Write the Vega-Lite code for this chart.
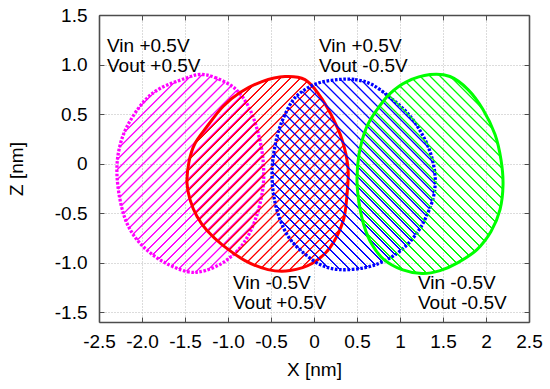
{
"$schema": "https://vega.github.io/schema/vega-lite/v6.json",
"width": 430, "height": 307,
"autosize": "none",
"padding": {"left": 99, "top": 15, "right": 21, "bottom": 67},
"config": {
  "view": {"stroke": null},
  "font": "Liberation Sans",
  "axis": {"labelFont": "Liberation Sans", "labelFontSize": 19, "labelColor": "#000000", "titleFont": "Liberation Sans", "titleFontSize": 19, "titleFontWeight": "normal", "titleColor": "#000000", "domainColor": "#4d4d4d", "domainWidth": 1.6, "tickColor": "#4d4d4d", "tickSize": -5, "tickWidth": 1, "gridColor": "#b8b8b8", "gridDash": [1, 2], "gridWidth": 1, "labelFlush": false, "labelOverlap": false}
},
"data": {"values": [
{"c":"m","i":1,"x":-1.326,"z":0.899},{"c":"m","i":2,"x":-1.151,"z":0.869},{"c":"m","i":3,"x":-0.919,"z":0.758},{"c":"m","i":4,"x":-0.756,"z":0.566},{"c":"m","i":5,"x":-0.651,"z":0.313},{"c":"m","i":6,"x":-0.593,"z":0.040},{"c":"m","i":7,"x":-0.593,"z":-0.242},{"c":"m","i":8,"x":-0.674,"z":-0.545},{"c":"m","i":9,"x":-0.814,"z":-0.798},{"c":"m","i":10,"x":-1.023,"z":-0.980},{"c":"m","i":11,"x":-1.267,"z":-1.081},{"c":"m","i":12,"x":-1.477,"z":-1.091},{"c":"m","i":13,"x":-1.756,"z":-0.990},{"c":"m","i":14,"x":-1.988,"z":-0.838},{"c":"m","i":15,"x":-2.151,"z":-0.646},{"c":"m","i":16,"x":-2.244,"z":-0.414},{"c":"m","i":17,"x":-2.291,"z":-0.111},{"c":"m","i":18,"x":-2.267,"z":0.141},{"c":"m","i":19,"x":-2.174,"z":0.374},{"c":"m","i":20,"x":-1.988,"z":0.616},{"c":"m","i":21,"x":-1.791,"z":0.758},{"c":"m","i":22,"x":-1.500,"z":0.859},
{"c":"r","i":1,"x":-0.337,"z":0.879},{"c":"r","i":2,"x":-0.105,"z":0.848},{"c":"r","i":3,"x":0.058,"z":0.697},{"c":"r","i":4,"x":0.198,"z":0.495},{"c":"r","i":5,"x":0.326,"z":0.242},{"c":"r","i":6,"x":0.395,"z":-0.040},{"c":"r","i":7,"x":0.384,"z":-0.313},{"c":"r","i":8,"x":0.337,"z":-0.586},{"c":"r","i":9,"x":0.186,"z":-0.848},{"c":"r","i":10,"x":-0.023,"z":-1.010},{"c":"r","i":11,"x":-0.279,"z":-1.081},{"c":"r","i":12,"x":-0.535,"z":-1.071},{"c":"r","i":13,"x":-0.802,"z":-0.980},{"c":"r","i":14,"x":-1.070,"z":-0.818},{"c":"r","i":15,"x":-1.244,"z":-0.677},{"c":"r","i":16,"x":-1.360,"z":-0.535},{"c":"r","i":17,"x":-1.442,"z":-0.364},{"c":"r","i":18,"x":-1.477,"z":-0.192},{"c":"r","i":19,"x":-1.453,"z":0.020},{"c":"r","i":20,"x":-1.384,"z":0.202},{"c":"r","i":21,"x":-1.244,"z":0.374},{"c":"r","i":22,"x":-1.058,"z":0.576},{"c":"r","i":23,"x":-0.860,"z":0.717},{"c":"r","i":24,"x":-0.605,"z":0.828},
{"c":"b","i":1,"x":0.279,"z":0.848},{"c":"b","i":2,"x":0.477,"z":0.848},{"c":"b","i":3,"x":0.674,"z":0.798},{"c":"b","i":4,"x":0.884,"z":0.667},{"c":"b","i":5,"x":1.081,"z":0.515},{"c":"b","i":6,"x":1.233,"z":0.333},{"c":"b","i":7,"x":1.349,"z":0.121},{"c":"b","i":8,"x":1.407,"z":-0.111},{"c":"b","i":9,"x":1.395,"z":-0.313},{"c":"b","i":10,"x":1.326,"z":-0.495},{"c":"b","i":11,"x":1.209,"z":-0.687},{"c":"b","i":12,"x":1.035,"z":-0.859},{"c":"b","i":13,"x":0.826,"z":-0.980},{"c":"b","i":14,"x":0.593,"z":-1.051},{"c":"b","i":15,"x":0.302,"z":-1.071},{"c":"b","i":16,"x":0.070,"z":-1.020},{"c":"b","i":17,"x":-0.140,"z":-0.889},{"c":"b","i":18,"x":-0.291,"z":-0.747},{"c":"b","i":19,"x":-0.395,"z":-0.566},{"c":"b","i":20,"x":-0.465,"z":-0.343},{"c":"b","i":21,"x":-0.488,"z":-0.111},{"c":"b","i":22,"x":-0.465,"z":0.121},{"c":"b","i":23,"x":-0.395,"z":0.374},{"c":"b","i":24,"x":-0.256,"z":0.626},{"c":"b","i":25,"x":-0.105,"z":0.747},{"c":"b","i":26,"x":0.070,"z":0.818},
{"c":"g","i":1,"x":1.349,"z":0.899},{"c":"g","i":2,"x":1.581,"z":0.879},{"c":"g","i":3,"x":1.791,"z":0.747},{"c":"g","i":4,"x":1.965,"z":0.545},{"c":"g","i":5,"x":2.105,"z":0.293},{"c":"g","i":6,"x":2.174,"z":0.040},{"c":"g","i":7,"x":2.198,"z":-0.212},{"c":"g","i":8,"x":2.163,"z":-0.465},{"c":"g","i":9,"x":2.058,"z":-0.687},{"c":"g","i":10,"x":1.895,"z":-0.869},{"c":"g","i":11,"x":1.674,"z":-1.000},{"c":"g","i":12,"x":1.465,"z":-1.081},{"c":"g","i":13,"x":1.256,"z":-1.111},{"c":"g","i":14,"x":1.023,"z":-1.071},{"c":"g","i":15,"x":0.814,"z":-0.970},{"c":"g","i":16,"x":0.674,"z":-0.818},{"c":"g","i":17,"x":0.581,"z":-0.626},{"c":"g","i":18,"x":0.523,"z":-0.394},{"c":"g","i":19,"x":0.500,"z":-0.162},{"c":"g","i":20,"x":0.523,"z":0.091},{"c":"g","i":21,"x":0.605,"z":0.354},{"c":"g","i":22,"x":0.733,"z":0.545},{"c":"g","i":23,"x":0.884,"z":0.707},{"c":"g","i":24,"x":1.081,"z":0.828}
]},
"layer": [
{
 "transform": [{"filter": "datum.c == 'm'"}],
 "mark": {"type": "line", "interpolate": "cardinal-closed", "stroke": "#ff00ff", "strokeWidth": 3.3, "strokeDash": [2.6, 1.6],
  "fill": {"gradient": "linear", "x1": 0, "y1": 0, "x2": 0.9714, "y2": 1.3106, "stops": [
{"offset":0.009,"color":"rgba(255,0,255,0)"},{"offset":0.0113,"color":"#ff00ff"},{"offset":0.0137,"color":"#ff00ff"},{"offset":0.016,"color":"rgba(255,0,255,0)"},
{"offset":0.034,"color":"rgba(255,0,255,0)"},{"offset":0.0363,"color":"#ff00ff"},{"offset":0.0387,"color":"#ff00ff"},{"offset":0.041,"color":"rgba(255,0,255,0)"},
{"offset":0.059,"color":"rgba(255,0,255,0)"},{"offset":0.0613,"color":"#ff00ff"},{"offset":0.0637,"color":"#ff00ff"},{"offset":0.066,"color":"rgba(255,0,255,0)"},
{"offset":0.084,"color":"rgba(255,0,255,0)"},{"offset":0.0863,"color":"#ff00ff"},{"offset":0.0887,"color":"#ff00ff"},{"offset":0.091,"color":"rgba(255,0,255,0)"},
{"offset":0.109,"color":"rgba(255,0,255,0)"},{"offset":0.1113,"color":"#ff00ff"},{"offset":0.1137,"color":"#ff00ff"},{"offset":0.116,"color":"rgba(255,0,255,0)"},
{"offset":0.134,"color":"rgba(255,0,255,0)"},{"offset":0.1363,"color":"#ff00ff"},{"offset":0.1387,"color":"#ff00ff"},{"offset":0.141,"color":"rgba(255,0,255,0)"},
{"offset":0.159,"color":"rgba(255,0,255,0)"},{"offset":0.1613,"color":"#ff00ff"},{"offset":0.1637,"color":"#ff00ff"},{"offset":0.166,"color":"rgba(255,0,255,0)"},
{"offset":0.184,"color":"rgba(255,0,255,0)"},{"offset":0.1863,"color":"#ff00ff"},{"offset":0.1887,"color":"#ff00ff"},{"offset":0.191,"color":"rgba(255,0,255,0)"},
{"offset":0.209,"color":"rgba(255,0,255,0)"},{"offset":0.2113,"color":"#ff00ff"},{"offset":0.2137,"color":"#ff00ff"},{"offset":0.216,"color":"rgba(255,0,255,0)"},
{"offset":0.234,"color":"rgba(255,0,255,0)"},{"offset":0.2363,"color":"#ff00ff"},{"offset":0.2387,"color":"#ff00ff"},{"offset":0.241,"color":"rgba(255,0,255,0)"},
{"offset":0.259,"color":"rgba(255,0,255,0)"},{"offset":0.2613,"color":"#ff00ff"},{"offset":0.2637,"color":"#ff00ff"},{"offset":0.266,"color":"rgba(255,0,255,0)"},
{"offset":0.284,"color":"rgba(255,0,255,0)"},{"offset":0.2863,"color":"#ff00ff"},{"offset":0.2887,"color":"#ff00ff"},{"offset":0.291,"color":"rgba(255,0,255,0)"},
{"offset":0.309,"color":"rgba(255,0,255,0)"},{"offset":0.3113,"color":"#ff00ff"},{"offset":0.3137,"color":"#ff00ff"},{"offset":0.316,"color":"rgba(255,0,255,0)"},
{"offset":0.334,"color":"rgba(255,0,255,0)"},{"offset":0.3363,"color":"#ff00ff"},{"offset":0.3387,"color":"#ff00ff"},{"offset":0.341,"color":"rgba(255,0,255,0)"},
{"offset":0.359,"color":"rgba(255,0,255,0)"},{"offset":0.3613,"color":"#ff00ff"},{"offset":0.3637,"color":"#ff00ff"},{"offset":0.366,"color":"rgba(255,0,255,0)"},
{"offset":0.384,"color":"rgba(255,0,255,0)"},{"offset":0.3863,"color":"#ff00ff"},{"offset":0.3887,"color":"#ff00ff"},{"offset":0.391,"color":"rgba(255,0,255,0)"},
{"offset":0.409,"color":"rgba(255,0,255,0)"},{"offset":0.4113,"color":"#ff00ff"},{"offset":0.4137,"color":"#ff00ff"},{"offset":0.416,"color":"rgba(255,0,255,0)"},
{"offset":0.434,"color":"rgba(255,0,255,0)"},{"offset":0.4363,"color":"#ff00ff"},{"offset":0.4387,"color":"#ff00ff"},{"offset":0.441,"color":"rgba(255,0,255,0)"},
{"offset":0.459,"color":"rgba(255,0,255,0)"},{"offset":0.4613,"color":"#ff00ff"},{"offset":0.4637,"color":"#ff00ff"},{"offset":0.466,"color":"rgba(255,0,255,0)"},
{"offset":0.484,"color":"rgba(255,0,255,0)"},{"offset":0.4863,"color":"#ff00ff"},{"offset":0.4887,"color":"#ff00ff"},{"offset":0.491,"color":"rgba(255,0,255,0)"},
{"offset":0.509,"color":"rgba(255,0,255,0)"},{"offset":0.5113,"color":"#ff00ff"},{"offset":0.5137,"color":"#ff00ff"},{"offset":0.516,"color":"rgba(255,0,255,0)"},
{"offset":0.534,"color":"rgba(255,0,255,0)"},{"offset":0.5363,"color":"#ff00ff"},{"offset":0.5387,"color":"#ff00ff"},{"offset":0.541,"color":"rgba(255,0,255,0)"},
{"offset":0.559,"color":"rgba(255,0,255,0)"},{"offset":0.5613,"color":"#ff00ff"},{"offset":0.5637,"color":"#ff00ff"},{"offset":0.566,"color":"rgba(255,0,255,0)"},
{"offset":0.584,"color":"rgba(255,0,255,0)"},{"offset":0.5863,"color":"#ff00ff"},{"offset":0.5887,"color":"#ff00ff"},{"offset":0.591,"color":"rgba(255,0,255,0)"},
{"offset":0.609,"color":"rgba(255,0,255,0)"},{"offset":0.6113,"color":"#ff00ff"},{"offset":0.6137,"color":"#ff00ff"},{"offset":0.616,"color":"rgba(255,0,255,0)"},
{"offset":0.634,"color":"rgba(255,0,255,0)"},{"offset":0.6363,"color":"#ff00ff"},{"offset":0.6387,"color":"#ff00ff"},{"offset":0.641,"color":"rgba(255,0,255,0)"},
{"offset":0.659,"color":"rgba(255,0,255,0)"},{"offset":0.6613,"color":"#ff00ff"},{"offset":0.6637,"color":"#ff00ff"},{"offset":0.666,"color":"rgba(255,0,255,0)"},
{"offset":0.684,"color":"rgba(255,0,255,0)"},{"offset":0.6863,"color":"#ff00ff"},{"offset":0.6887,"color":"#ff00ff"},{"offset":0.691,"color":"rgba(255,0,255,0)"},
{"offset":0.709,"color":"rgba(255,0,255,0)"},{"offset":0.7113,"color":"#ff00ff"},{"offset":0.7137,"color":"#ff00ff"},{"offset":0.716,"color":"rgba(255,0,255,0)"},
{"offset":0.734,"color":"rgba(255,0,255,0)"},{"offset":0.7363,"color":"#ff00ff"},{"offset":0.7387,"color":"#ff00ff"},{"offset":0.741,"color":"rgba(255,0,255,0)"},
{"offset":0.759,"color":"rgba(255,0,255,0)"},{"offset":0.7613,"color":"#ff00ff"},{"offset":0.7637,"color":"#ff00ff"},{"offset":0.766,"color":"rgba(255,0,255,0)"},
{"offset":0.784,"color":"rgba(255,0,255,0)"},{"offset":0.7863,"color":"#ff00ff"},{"offset":0.7887,"color":"#ff00ff"},{"offset":0.791,"color":"rgba(255,0,255,0)"},
{"offset":0.809,"color":"rgba(255,0,255,0)"},{"offset":0.8113,"color":"#ff00ff"},{"offset":0.8137,"color":"#ff00ff"},{"offset":0.816,"color":"rgba(255,0,255,0)"},
{"offset":0.834,"color":"rgba(255,0,255,0)"},{"offset":0.8363,"color":"#ff00ff"},{"offset":0.8387,"color":"#ff00ff"},{"offset":0.841,"color":"rgba(255,0,255,0)"},
{"offset":0.859,"color":"rgba(255,0,255,0)"},{"offset":0.8613,"color":"#ff00ff"},{"offset":0.8637,"color":"#ff00ff"},{"offset":0.866,"color":"rgba(255,0,255,0)"},
{"offset":0.884,"color":"rgba(255,0,255,0)"},{"offset":0.8863,"color":"#ff00ff"},{"offset":0.8887,"color":"#ff00ff"},{"offset":0.891,"color":"rgba(255,0,255,0)"},
{"offset":0.909,"color":"rgba(255,0,255,0)"},{"offset":0.9113,"color":"#ff00ff"},{"offset":0.9137,"color":"#ff00ff"},{"offset":0.916,"color":"rgba(255,0,255,0)"}
  ]}},
 "encoding": {
  "x": {"field": "x", "type": "quantitative", "scale": {"domain": [-2.5, 2.5], "nice": false, "zero": false},
        "axis": {"orient": "bottom", "values": [-2.5,-2,-1.5,-1,-0.5,0,0.5,1,1.5,2,2.5], "labelExpr": "datum.value < 0 && datum.value % 1 == 0 ? datum.value + '.0' : '' + datum.value", "grid": true, "title": "X [nm]", "labelPadding": 15, "titlePadding": 9}},
  "y": {"field": "z", "type": "quantitative", "scale": {"domain": [-1.6, 1.5], "nice": false, "zero": false},
        "axis": {"orient": "left", "values": [-1.5,-1,-0.5,0,0.5,1,1.5], "labelExpr": "datum.value != 0 && datum.value % 1 == 0 ? datum.value + '.0' : '' + datum.value", "grid": true, "title": "Z [nm]", "labelPadding": 17, "titlePadding": 28}},
  "order": {"field": "i", "type": "quantitative"}
 }
},
{
 "transform": [{"filter": "datum.c == 'r'"}],
 "mark": {"type": "line", "interpolate": "cardinal-closed", "stroke": "#ff0000", "strokeWidth": 3,
  "fill": {"gradient": "linear", "x1": 0, "y1": 0, "x2": 1.0132, "y2": 1.2209, "stops": [
{"offset":0.009,"color":"rgba(255,0,0,0)"},{"offset":0.0113,"color":"#ff0000"},{"offset":0.0137,"color":"#ff0000"},{"offset":0.016,"color":"rgba(255,0,0,0)"},
{"offset":0.034,"color":"rgba(255,0,0,0)"},{"offset":0.0363,"color":"#ff0000"},{"offset":0.0387,"color":"#ff0000"},{"offset":0.041,"color":"rgba(255,0,0,0)"},
{"offset":0.059,"color":"rgba(255,0,0,0)"},{"offset":0.0613,"color":"#ff0000"},{"offset":0.0637,"color":"#ff0000"},{"offset":0.066,"color":"rgba(255,0,0,0)"},
{"offset":0.084,"color":"rgba(255,0,0,0)"},{"offset":0.0863,"color":"#ff0000"},{"offset":0.0887,"color":"#ff0000"},{"offset":0.091,"color":"rgba(255,0,0,0)"},
{"offset":0.109,"color":"rgba(255,0,0,0)"},{"offset":0.1113,"color":"#ff0000"},{"offset":0.1137,"color":"#ff0000"},{"offset":0.116,"color":"rgba(255,0,0,0)"},
{"offset":0.134,"color":"rgba(255,0,0,0)"},{"offset":0.1363,"color":"#ff0000"},{"offset":0.1387,"color":"#ff0000"},{"offset":0.141,"color":"rgba(255,0,0,0)"},
{"offset":0.159,"color":"rgba(255,0,0,0)"},{"offset":0.1613,"color":"#ff0000"},{"offset":0.1637,"color":"#ff0000"},{"offset":0.166,"color":"rgba(255,0,0,0)"},
{"offset":0.184,"color":"rgba(255,0,0,0)"},{"offset":0.1863,"color":"#ff0000"},{"offset":0.1887,"color":"#ff0000"},{"offset":0.191,"color":"rgba(255,0,0,0)"},
{"offset":0.209,"color":"rgba(255,0,0,0)"},{"offset":0.2113,"color":"#ff0000"},{"offset":0.2137,"color":"#ff0000"},{"offset":0.216,"color":"rgba(255,0,0,0)"},
{"offset":0.234,"color":"rgba(255,0,0,0)"},{"offset":0.2363,"color":"#ff0000"},{"offset":0.2387,"color":"#ff0000"},{"offset":0.241,"color":"rgba(255,0,0,0)"},
{"offset":0.259,"color":"rgba(255,0,0,0)"},{"offset":0.2613,"color":"#ff0000"},{"offset":0.2637,"color":"#ff0000"},{"offset":0.266,"color":"rgba(255,0,0,0)"},
{"offset":0.284,"color":"rgba(255,0,0,0)"},{"offset":0.2863,"color":"#ff0000"},{"offset":0.2887,"color":"#ff0000"},{"offset":0.291,"color":"rgba(255,0,0,0)"},
{"offset":0.309,"color":"rgba(255,0,0,0)"},{"offset":0.3113,"color":"#ff0000"},{"offset":0.3137,"color":"#ff0000"},{"offset":0.316,"color":"rgba(255,0,0,0)"},
{"offset":0.334,"color":"rgba(255,0,0,0)"},{"offset":0.3363,"color":"#ff0000"},{"offset":0.3387,"color":"#ff0000"},{"offset":0.341,"color":"rgba(255,0,0,0)"},
{"offset":0.359,"color":"rgba(255,0,0,0)"},{"offset":0.3613,"color":"#ff0000"},{"offset":0.3637,"color":"#ff0000"},{"offset":0.366,"color":"rgba(255,0,0,0)"},
{"offset":0.384,"color":"rgba(255,0,0,0)"},{"offset":0.3863,"color":"#ff0000"},{"offset":0.3887,"color":"#ff0000"},{"offset":0.391,"color":"rgba(255,0,0,0)"},
{"offset":0.409,"color":"rgba(255,0,0,0)"},{"offset":0.4113,"color":"#ff0000"},{"offset":0.4137,"color":"#ff0000"},{"offset":0.416,"color":"rgba(255,0,0,0)"},
{"offset":0.434,"color":"rgba(255,0,0,0)"},{"offset":0.4363,"color":"#ff0000"},{"offset":0.4387,"color":"#ff0000"},{"offset":0.441,"color":"rgba(255,0,0,0)"},
{"offset":0.459,"color":"rgba(255,0,0,0)"},{"offset":0.4613,"color":"#ff0000"},{"offset":0.4637,"color":"#ff0000"},{"offset":0.466,"color":"rgba(255,0,0,0)"},
{"offset":0.484,"color":"rgba(255,0,0,0)"},{"offset":0.4863,"color":"#ff0000"},{"offset":0.4887,"color":"#ff0000"},{"offset":0.491,"color":"rgba(255,0,0,0)"},
{"offset":0.509,"color":"rgba(255,0,0,0)"},{"offset":0.5113,"color":"#ff0000"},{"offset":0.5137,"color":"#ff0000"},{"offset":0.516,"color":"rgba(255,0,0,0)"},
{"offset":0.534,"color":"rgba(255,0,0,0)"},{"offset":0.5363,"color":"#ff0000"},{"offset":0.5387,"color":"#ff0000"},{"offset":0.541,"color":"rgba(255,0,0,0)"},
{"offset":0.559,"color":"rgba(255,0,0,0)"},{"offset":0.5613,"color":"#ff0000"},{"offset":0.5637,"color":"#ff0000"},{"offset":0.566,"color":"rgba(255,0,0,0)"},
{"offset":0.584,"color":"rgba(255,0,0,0)"},{"offset":0.5863,"color":"#ff0000"},{"offset":0.5887,"color":"#ff0000"},{"offset":0.591,"color":"rgba(255,0,0,0)"},
{"offset":0.609,"color":"rgba(255,0,0,0)"},{"offset":0.6113,"color":"#ff0000"},{"offset":0.6137,"color":"#ff0000"},{"offset":0.616,"color":"rgba(255,0,0,0)"},
{"offset":0.634,"color":"rgba(255,0,0,0)"},{"offset":0.6363,"color":"#ff0000"},{"offset":0.6387,"color":"#ff0000"},{"offset":0.641,"color":"rgba(255,0,0,0)"},
{"offset":0.659,"color":"rgba(255,0,0,0)"},{"offset":0.6613,"color":"#ff0000"},{"offset":0.6637,"color":"#ff0000"},{"offset":0.666,"color":"rgba(255,0,0,0)"},
{"offset":0.684,"color":"rgba(255,0,0,0)"},{"offset":0.6863,"color":"#ff0000"},{"offset":0.6887,"color":"#ff0000"},{"offset":0.691,"color":"rgba(255,0,0,0)"},
{"offset":0.709,"color":"rgba(255,0,0,0)"},{"offset":0.7113,"color":"#ff0000"},{"offset":0.7137,"color":"#ff0000"},{"offset":0.716,"color":"rgba(255,0,0,0)"},
{"offset":0.734,"color":"rgba(255,0,0,0)"},{"offset":0.7363,"color":"#ff0000"},{"offset":0.7387,"color":"#ff0000"},{"offset":0.741,"color":"rgba(255,0,0,0)"},
{"offset":0.759,"color":"rgba(255,0,0,0)"},{"offset":0.7613,"color":"#ff0000"},{"offset":0.7637,"color":"#ff0000"},{"offset":0.766,"color":"rgba(255,0,0,0)"},
{"offset":0.784,"color":"rgba(255,0,0,0)"},{"offset":0.7863,"color":"#ff0000"},{"offset":0.7887,"color":"#ff0000"},{"offset":0.791,"color":"rgba(255,0,0,0)"},
{"offset":0.809,"color":"rgba(255,0,0,0)"},{"offset":0.8113,"color":"#ff0000"},{"offset":0.8137,"color":"#ff0000"},{"offset":0.816,"color":"rgba(255,0,0,0)"},
{"offset":0.834,"color":"rgba(255,0,0,0)"},{"offset":0.8363,"color":"#ff0000"},{"offset":0.8387,"color":"#ff0000"},{"offset":0.841,"color":"rgba(255,0,0,0)"},
{"offset":0.859,"color":"rgba(255,0,0,0)"},{"offset":0.8613,"color":"#ff0000"},{"offset":0.8637,"color":"#ff0000"},{"offset":0.866,"color":"rgba(255,0,0,0)"},
{"offset":0.884,"color":"rgba(255,0,0,0)"},{"offset":0.8863,"color":"#ff0000"},{"offset":0.8887,"color":"#ff0000"},{"offset":0.891,"color":"rgba(255,0,0,0)"},
{"offset":0.909,"color":"rgba(255,0,0,0)"},{"offset":0.9113,"color":"#ff0000"},{"offset":0.9137,"color":"#ff0000"},{"offset":0.916,"color":"rgba(255,0,0,0)"}
  ]}},
 "encoding": {
  "x": {"field": "x", "type": "quantitative", "scale": {"domain": [-2.5, 2.5], "nice": false, "zero": false}, "axis": null},
  "y": {"field": "z", "type": "quantitative", "scale": {"domain": [-1.6, 1.5], "nice": false, "zero": false}, "axis": null},
  "order": {"field": "i", "type": "quantitative"}
 }
},
{
 "transform": [{"filter": "datum.c == 'b'"}],
 "mark": {"type": "line", "interpolate": "cardinal-closed", "stroke": "#0000ff", "strokeWidth": 3.3, "strokeDash": [2.6, 1.6],
  "fill": {"gradient": "linear", "x1": 1, "y1": 0, "x2": -0.0404, "y2": 1.2127, "stops": [
{"offset":0.009,"color":"rgba(0,0,255,0)"},{"offset":0.0113,"color":"#0000ff"},{"offset":0.0137,"color":"#0000ff"},{"offset":0.016,"color":"rgba(0,0,255,0)"},
{"offset":0.034,"color":"rgba(0,0,255,0)"},{"offset":0.0363,"color":"#0000ff"},{"offset":0.0387,"color":"#0000ff"},{"offset":0.041,"color":"rgba(0,0,255,0)"},
{"offset":0.059,"color":"rgba(0,0,255,0)"},{"offset":0.0613,"color":"#0000ff"},{"offset":0.0637,"color":"#0000ff"},{"offset":0.066,"color":"rgba(0,0,255,0)"},
{"offset":0.084,"color":"rgba(0,0,255,0)"},{"offset":0.0863,"color":"#0000ff"},{"offset":0.0887,"color":"#0000ff"},{"offset":0.091,"color":"rgba(0,0,255,0)"},
{"offset":0.109,"color":"rgba(0,0,255,0)"},{"offset":0.1113,"color":"#0000ff"},{"offset":0.1137,"color":"#0000ff"},{"offset":0.116,"color":"rgba(0,0,255,0)"},
{"offset":0.134,"color":"rgba(0,0,255,0)"},{"offset":0.1363,"color":"#0000ff"},{"offset":0.1387,"color":"#0000ff"},{"offset":0.141,"color":"rgba(0,0,255,0)"},
{"offset":0.159,"color":"rgba(0,0,255,0)"},{"offset":0.1613,"color":"#0000ff"},{"offset":0.1637,"color":"#0000ff"},{"offset":0.166,"color":"rgba(0,0,255,0)"},
{"offset":0.184,"color":"rgba(0,0,255,0)"},{"offset":0.1863,"color":"#0000ff"},{"offset":0.1887,"color":"#0000ff"},{"offset":0.191,"color":"rgba(0,0,255,0)"},
{"offset":0.209,"color":"rgba(0,0,255,0)"},{"offset":0.2113,"color":"#0000ff"},{"offset":0.2137,"color":"#0000ff"},{"offset":0.216,"color":"rgba(0,0,255,0)"},
{"offset":0.234,"color":"rgba(0,0,255,0)"},{"offset":0.2363,"color":"#0000ff"},{"offset":0.2387,"color":"#0000ff"},{"offset":0.241,"color":"rgba(0,0,255,0)"},
{"offset":0.259,"color":"rgba(0,0,255,0)"},{"offset":0.2613,"color":"#0000ff"},{"offset":0.2637,"color":"#0000ff"},{"offset":0.266,"color":"rgba(0,0,255,0)"},
{"offset":0.284,"color":"rgba(0,0,255,0)"},{"offset":0.2863,"color":"#0000ff"},{"offset":0.2887,"color":"#0000ff"},{"offset":0.291,"color":"rgba(0,0,255,0)"},
{"offset":0.309,"color":"rgba(0,0,255,0)"},{"offset":0.3113,"color":"#0000ff"},{"offset":0.3137,"color":"#0000ff"},{"offset":0.316,"color":"rgba(0,0,255,0)"},
{"offset":0.334,"color":"rgba(0,0,255,0)"},{"offset":0.3363,"color":"#0000ff"},{"offset":0.3387,"color":"#0000ff"},{"offset":0.341,"color":"rgba(0,0,255,0)"},
{"offset":0.359,"color":"rgba(0,0,255,0)"},{"offset":0.3613,"color":"#0000ff"},{"offset":0.3637,"color":"#0000ff"},{"offset":0.366,"color":"rgba(0,0,255,0)"},
{"offset":0.384,"color":"rgba(0,0,255,0)"},{"offset":0.3863,"color":"#0000ff"},{"offset":0.3887,"color":"#0000ff"},{"offset":0.391,"color":"rgba(0,0,255,0)"},
{"offset":0.409,"color":"rgba(0,0,255,0)"},{"offset":0.4113,"color":"#0000ff"},{"offset":0.4137,"color":"#0000ff"},{"offset":0.416,"color":"rgba(0,0,255,0)"},
{"offset":0.434,"color":"rgba(0,0,255,0)"},{"offset":0.4363,"color":"#0000ff"},{"offset":0.4387,"color":"#0000ff"},{"offset":0.441,"color":"rgba(0,0,255,0)"},
{"offset":0.459,"color":"rgba(0,0,255,0)"},{"offset":0.4613,"color":"#0000ff"},{"offset":0.4637,"color":"#0000ff"},{"offset":0.466,"color":"rgba(0,0,255,0)"},
{"offset":0.484,"color":"rgba(0,0,255,0)"},{"offset":0.4863,"color":"#0000ff"},{"offset":0.4887,"color":"#0000ff"},{"offset":0.491,"color":"rgba(0,0,255,0)"},
{"offset":0.509,"color":"rgba(0,0,255,0)"},{"offset":0.5113,"color":"#0000ff"},{"offset":0.5137,"color":"#0000ff"},{"offset":0.516,"color":"rgba(0,0,255,0)"},
{"offset":0.534,"color":"rgba(0,0,255,0)"},{"offset":0.5363,"color":"#0000ff"},{"offset":0.5387,"color":"#0000ff"},{"offset":0.541,"color":"rgba(0,0,255,0)"},
{"offset":0.559,"color":"rgba(0,0,255,0)"},{"offset":0.5613,"color":"#0000ff"},{"offset":0.5637,"color":"#0000ff"},{"offset":0.566,"color":"rgba(0,0,255,0)"},
{"offset":0.584,"color":"rgba(0,0,255,0)"},{"offset":0.5863,"color":"#0000ff"},{"offset":0.5887,"color":"#0000ff"},{"offset":0.591,"color":"rgba(0,0,255,0)"},
{"offset":0.609,"color":"rgba(0,0,255,0)"},{"offset":0.6113,"color":"#0000ff"},{"offset":0.6137,"color":"#0000ff"},{"offset":0.616,"color":"rgba(0,0,255,0)"},
{"offset":0.634,"color":"rgba(0,0,255,0)"},{"offset":0.6363,"color":"#0000ff"},{"offset":0.6387,"color":"#0000ff"},{"offset":0.641,"color":"rgba(0,0,255,0)"},
{"offset":0.659,"color":"rgba(0,0,255,0)"},{"offset":0.6613,"color":"#0000ff"},{"offset":0.6637,"color":"#0000ff"},{"offset":0.666,"color":"rgba(0,0,255,0)"},
{"offset":0.684,"color":"rgba(0,0,255,0)"},{"offset":0.6863,"color":"#0000ff"},{"offset":0.6887,"color":"#0000ff"},{"offset":0.691,"color":"rgba(0,0,255,0)"},
{"offset":0.709,"color":"rgba(0,0,255,0)"},{"offset":0.7113,"color":"#0000ff"},{"offset":0.7137,"color":"#0000ff"},{"offset":0.716,"color":"rgba(0,0,255,0)"},
{"offset":0.734,"color":"rgba(0,0,255,0)"},{"offset":0.7363,"color":"#0000ff"},{"offset":0.7387,"color":"#0000ff"},{"offset":0.741,"color":"rgba(0,0,255,0)"},
{"offset":0.759,"color":"rgba(0,0,255,0)"},{"offset":0.7613,"color":"#0000ff"},{"offset":0.7637,"color":"#0000ff"},{"offset":0.766,"color":"rgba(0,0,255,0)"},
{"offset":0.784,"color":"rgba(0,0,255,0)"},{"offset":0.7863,"color":"#0000ff"},{"offset":0.7887,"color":"#0000ff"},{"offset":0.791,"color":"rgba(0,0,255,0)"},
{"offset":0.809,"color":"rgba(0,0,255,0)"},{"offset":0.8113,"color":"#0000ff"},{"offset":0.8137,"color":"#0000ff"},{"offset":0.816,"color":"rgba(0,0,255,0)"},
{"offset":0.834,"color":"rgba(0,0,255,0)"},{"offset":0.8363,"color":"#0000ff"},{"offset":0.8387,"color":"#0000ff"},{"offset":0.841,"color":"rgba(0,0,255,0)"},
{"offset":0.859,"color":"rgba(0,0,255,0)"},{"offset":0.8613,"color":"#0000ff"},{"offset":0.8637,"color":"#0000ff"},{"offset":0.866,"color":"rgba(0,0,255,0)"},
{"offset":0.884,"color":"rgba(0,0,255,0)"},{"offset":0.8863,"color":"#0000ff"},{"offset":0.8887,"color":"#0000ff"},{"offset":0.891,"color":"rgba(0,0,255,0)"},
{"offset":0.909,"color":"rgba(0,0,255,0)"},{"offset":0.9113,"color":"#0000ff"},{"offset":0.9137,"color":"#0000ff"},{"offset":0.916,"color":"rgba(0,0,255,0)"}
  ]}},
 "encoding": {
  "x": {"field": "x", "type": "quantitative", "scale": {"domain": [-2.5, 2.5], "nice": false, "zero": false}, "axis": null},
  "y": {"field": "z", "type": "quantitative", "scale": {"domain": [-1.6, 1.5], "nice": false, "zero": false}, "axis": null},
  "order": {"field": "i", "type": "quantitative"}
 }
},
{
 "transform": [{"filter": "datum.c == 'g'"}],
 "mark": {"type": "line", "interpolate": "cardinal-closed", "stroke": "#00ff00", "strokeWidth": 3,
  "fill": {"gradient": "linear", "x1": 1, "y1": 0, "x2": 0.0414, "y2": 1.3067, "stops": [
{"offset":0.009,"color":"rgba(0,255,0,0)"},{"offset":0.0113,"color":"#00ff00"},{"offset":0.0137,"color":"#00ff00"},{"offset":0.016,"color":"rgba(0,255,0,0)"},
{"offset":0.034,"color":"rgba(0,255,0,0)"},{"offset":0.0363,"color":"#00ff00"},{"offset":0.0387,"color":"#00ff00"},{"offset":0.041,"color":"rgba(0,255,0,0)"},
{"offset":0.059,"color":"rgba(0,255,0,0)"},{"offset":0.0613,"color":"#00ff00"},{"offset":0.0637,"color":"#00ff00"},{"offset":0.066,"color":"rgba(0,255,0,0)"},
{"offset":0.084,"color":"rgba(0,255,0,0)"},{"offset":0.0863,"color":"#00ff00"},{"offset":0.0887,"color":"#00ff00"},{"offset":0.091,"color":"rgba(0,255,0,0)"},
{"offset":0.109,"color":"rgba(0,255,0,0)"},{"offset":0.1113,"color":"#00ff00"},{"offset":0.1137,"color":"#00ff00"},{"offset":0.116,"color":"rgba(0,255,0,0)"},
{"offset":0.134,"color":"rgba(0,255,0,0)"},{"offset":0.1363,"color":"#00ff00"},{"offset":0.1387,"color":"#00ff00"},{"offset":0.141,"color":"rgba(0,255,0,0)"},
{"offset":0.159,"color":"rgba(0,255,0,0)"},{"offset":0.1613,"color":"#00ff00"},{"offset":0.1637,"color":"#00ff00"},{"offset":0.166,"color":"rgba(0,255,0,0)"},
{"offset":0.184,"color":"rgba(0,255,0,0)"},{"offset":0.1863,"color":"#00ff00"},{"offset":0.1887,"color":"#00ff00"},{"offset":0.191,"color":"rgba(0,255,0,0)"},
{"offset":0.209,"color":"rgba(0,255,0,0)"},{"offset":0.2113,"color":"#00ff00"},{"offset":0.2137,"color":"#00ff00"},{"offset":0.216,"color":"rgba(0,255,0,0)"},
{"offset":0.234,"color":"rgba(0,255,0,0)"},{"offset":0.2363,"color":"#00ff00"},{"offset":0.2387,"color":"#00ff00"},{"offset":0.241,"color":"rgba(0,255,0,0)"},
{"offset":0.259,"color":"rgba(0,255,0,0)"},{"offset":0.2613,"color":"#00ff00"},{"offset":0.2637,"color":"#00ff00"},{"offset":0.266,"color":"rgba(0,255,0,0)"},
{"offset":0.284,"color":"rgba(0,255,0,0)"},{"offset":0.2863,"color":"#00ff00"},{"offset":0.2887,"color":"#00ff00"},{"offset":0.291,"color":"rgba(0,255,0,0)"},
{"offset":0.309,"color":"rgba(0,255,0,0)"},{"offset":0.3113,"color":"#00ff00"},{"offset":0.3137,"color":"#00ff00"},{"offset":0.316,"color":"rgba(0,255,0,0)"},
{"offset":0.334,"color":"rgba(0,255,0,0)"},{"offset":0.3363,"color":"#00ff00"},{"offset":0.3387,"color":"#00ff00"},{"offset":0.341,"color":"rgba(0,255,0,0)"},
{"offset":0.359,"color":"rgba(0,255,0,0)"},{"offset":0.3613,"color":"#00ff00"},{"offset":0.3637,"color":"#00ff00"},{"offset":0.366,"color":"rgba(0,255,0,0)"},
{"offset":0.384,"color":"rgba(0,255,0,0)"},{"offset":0.3863,"color":"#00ff00"},{"offset":0.3887,"color":"#00ff00"},{"offset":0.391,"color":"rgba(0,255,0,0)"},
{"offset":0.409,"color":"rgba(0,255,0,0)"},{"offset":0.4113,"color":"#00ff00"},{"offset":0.4137,"color":"#00ff00"},{"offset":0.416,"color":"rgba(0,255,0,0)"},
{"offset":0.434,"color":"rgba(0,255,0,0)"},{"offset":0.4363,"color":"#00ff00"},{"offset":0.4387,"color":"#00ff00"},{"offset":0.441,"color":"rgba(0,255,0,0)"},
{"offset":0.459,"color":"rgba(0,255,0,0)"},{"offset":0.4613,"color":"#00ff00"},{"offset":0.4637,"color":"#00ff00"},{"offset":0.466,"color":"rgba(0,255,0,0)"},
{"offset":0.484,"color":"rgba(0,255,0,0)"},{"offset":0.4863,"color":"#00ff00"},{"offset":0.4887,"color":"#00ff00"},{"offset":0.491,"color":"rgba(0,255,0,0)"},
{"offset":0.509,"color":"rgba(0,255,0,0)"},{"offset":0.5113,"color":"#00ff00"},{"offset":0.5137,"color":"#00ff00"},{"offset":0.516,"color":"rgba(0,255,0,0)"},
{"offset":0.534,"color":"rgba(0,255,0,0)"},{"offset":0.5363,"color":"#00ff00"},{"offset":0.5387,"color":"#00ff00"},{"offset":0.541,"color":"rgba(0,255,0,0)"},
{"offset":0.559,"color":"rgba(0,255,0,0)"},{"offset":0.5613,"color":"#00ff00"},{"offset":0.5637,"color":"#00ff00"},{"offset":0.566,"color":"rgba(0,255,0,0)"},
{"offset":0.584,"color":"rgba(0,255,0,0)"},{"offset":0.5863,"color":"#00ff00"},{"offset":0.5887,"color":"#00ff00"},{"offset":0.591,"color":"rgba(0,255,0,0)"},
{"offset":0.609,"color":"rgba(0,255,0,0)"},{"offset":0.6113,"color":"#00ff00"},{"offset":0.6137,"color":"#00ff00"},{"offset":0.616,"color":"rgba(0,255,0,0)"},
{"offset":0.634,"color":"rgba(0,255,0,0)"},{"offset":0.6363,"color":"#00ff00"},{"offset":0.6387,"color":"#00ff00"},{"offset":0.641,"color":"rgba(0,255,0,0)"},
{"offset":0.659,"color":"rgba(0,255,0,0)"},{"offset":0.6613,"color":"#00ff00"},{"offset":0.6637,"color":"#00ff00"},{"offset":0.666,"color":"rgba(0,255,0,0)"},
{"offset":0.684,"color":"rgba(0,255,0,0)"},{"offset":0.6863,"color":"#00ff00"},{"offset":0.6887,"color":"#00ff00"},{"offset":0.691,"color":"rgba(0,255,0,0)"},
{"offset":0.709,"color":"rgba(0,255,0,0)"},{"offset":0.7113,"color":"#00ff00"},{"offset":0.7137,"color":"#00ff00"},{"offset":0.716,"color":"rgba(0,255,0,0)"},
{"offset":0.734,"color":"rgba(0,255,0,0)"},{"offset":0.7363,"color":"#00ff00"},{"offset":0.7387,"color":"#00ff00"},{"offset":0.741,"color":"rgba(0,255,0,0)"},
{"offset":0.759,"color":"rgba(0,255,0,0)"},{"offset":0.7613,"color":"#00ff00"},{"offset":0.7637,"color":"#00ff00"},{"offset":0.766,"color":"rgba(0,255,0,0)"},
{"offset":0.784,"color":"rgba(0,255,0,0)"},{"offset":0.7863,"color":"#00ff00"},{"offset":0.7887,"color":"#00ff00"},{"offset":0.791,"color":"rgba(0,255,0,0)"},
{"offset":0.809,"color":"rgba(0,255,0,0)"},{"offset":0.8113,"color":"#00ff00"},{"offset":0.8137,"color":"#00ff00"},{"offset":0.816,"color":"rgba(0,255,0,0)"},
{"offset":0.834,"color":"rgba(0,255,0,0)"},{"offset":0.8363,"color":"#00ff00"},{"offset":0.8387,"color":"#00ff00"},{"offset":0.841,"color":"rgba(0,255,0,0)"},
{"offset":0.859,"color":"rgba(0,255,0,0)"},{"offset":0.8613,"color":"#00ff00"},{"offset":0.8637,"color":"#00ff00"},{"offset":0.866,"color":"rgba(0,255,0,0)"},
{"offset":0.884,"color":"rgba(0,255,0,0)"},{"offset":0.8863,"color":"#00ff00"},{"offset":0.8887,"color":"#00ff00"},{"offset":0.891,"color":"rgba(0,255,0,0)"},
{"offset":0.909,"color":"rgba(0,255,0,0)"},{"offset":0.9113,"color":"#00ff00"},{"offset":0.9137,"color":"#00ff00"},{"offset":0.916,"color":"rgba(0,255,0,0)"}
  ]}},
 "encoding": {
  "x": {"field": "x", "type": "quantitative", "scale": {"domain": [-2.5, 2.5], "nice": false, "zero": false}, "axis": null},
  "y": {"field": "z", "type": "quantitative", "scale": {"domain": [-1.6, 1.5], "nice": false, "zero": false}, "axis": null},
  "order": {"field": "i", "type": "quantitative"}
 }
},
{
 "data": {"values": [
  {"x": -2.407, "z": 1.131, "t": "Vin +0.5V\nVout +0.5V"},
  {"x": 0.058, "z": 1.131, "t": "Vin +0.5V\nVout -0.5V"},
  {"x": -0.942, "z": -1.263, "t": "Vin -0.5V\nVout +0.5V"},
  {"x": 1.209, "z": -1.263, "t": "Vin -0.5V\nVout -0.5V"}
 ]},
 "mark": {"type": "text", "align": "left", "baseline": "alphabetic", "fontSize": 19, "lineHeight": 20, "lineBreak": "\n", "font": "Liberation Sans", "color": "#000000"},
 "encoding": {
  "x": {"field": "x", "type": "quantitative", "scale": {"domain": [-2.5, 2.5], "nice": false, "zero": false},
        "axis": {"orient": "top", "values": [-2.5,-2,-1.5,-1,-0.5,0,0.5,1,1.5,2,2.5], "labels": false, "grid": false, "title": null}},
  "y": {"field": "z", "type": "quantitative", "scale": {"domain": [-1.6, 1.5], "nice": false, "zero": false},
        "axis": {"orient": "right", "values": [-1.5,-1,-0.5,0,0.5,1,1.5], "labels": false, "grid": false, "title": null}},
  "text": {"field": "t", "type": "nominal"}
 }
}
]
}
